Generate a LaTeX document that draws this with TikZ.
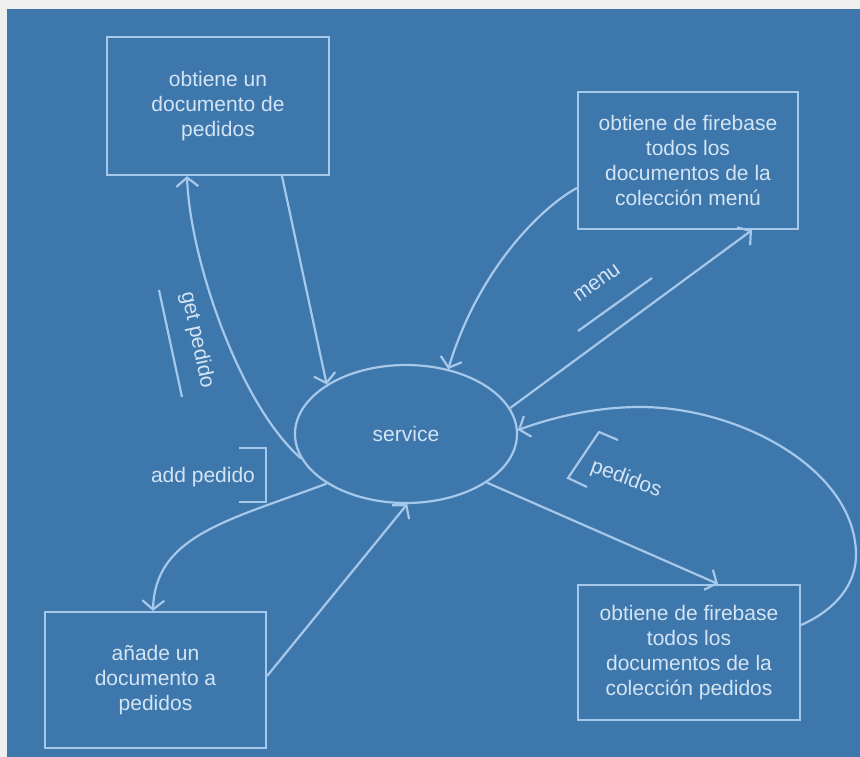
\documentclass[tikz,border=0pt]{standalone}
\usepackage{fontspec}
\setmainfont{Liberation Sans}
\usetikzlibrary{shapes.geometric,arrows.meta}
\definecolor{bgblue}{HTML}{3E77AC}
\definecolor{edgeblue}{HTML}{A6C8EA}
\definecolor{inkblue}{HTML}{D3E4F4}
\definecolor{paper}{HTML}{EFEFEF}
\tikzset{
  stepbox/.style={draw=edgeblue, line width=2.2pt, rectangle, align=center,
    text=inkblue, font=\fontsize{21}{25}\selectfont, inner sep=0pt},
  svcshape/.style={draw=edgeblue, line width=2.2pt, ellipse, inner sep=0pt,
    text=inkblue, font=\fontsize{21}{25}\selectfont,
    minimum width=222pt, minimum height=138pt},
  flow/.style={draw=edgeblue, line width=2.2pt,
    -{Straight Barb[length=9pt,width=22pt]}},
  tag/.style={text=inkblue, font=\fontsize{21}{25}\selectfont, inner sep=0pt},
  mark line/.style={draw=edgeblue, line width=2.2pt}
}
\begin{document}
\begin{tikzpicture}[x=1pt,y=-1pt]
  % page and panel
  \fill[paper] (0,0) rectangle (860,757);
  \fill[bgblue] (7,9) rectangle (860,757);
  \useasboundingbox (0,0) rectangle (860,757);

  % processes
  \node[stepbox, minimum width=222pt, minimum height=138pt] (b1) at (218,106)
    {obtiene un\\documento de\\pedidos};
  \node[stepbox, minimum width=220pt, minimum height=137pt] (b2) at (688,160.5)
    {obtiene de firebase\\todos los\\documentos de la\\colección menú};
  \node[stepbox, minimum width=222pt, minimum height=135pt] (b3) at (689,652.5)
    {obtiene de firebase\\todos los\\documentos de la\\colección pedidos};
  \node[stepbox, minimum width=221pt, minimum height=136pt] (b4) at (155.5,680)
    {añade un\\documento a\\pedidos};
  \node[svcshape] (svc) at (406,434) {service};

  % connectors
  \draw[flow] ([xshift=64pt]b1.south) -- (svc.148);
  \draw[flow] (svc.193) .. controls (240,405) and (190,260) .. ([xshift=-31pt]b1.south);
  \draw[flow] ([yshift=-27.5pt]b2.west) .. controls (545,205) and (480,265) .. (svc.57.5);
  \draw[flow] (svc.14.6) -- ([xshift=64pt]b2.south);
  \draw[flow] (svc.-31.2) -- ([xshift=29pt]b3.north);
  \draw[flow] ([yshift=27.5pt]b3.east) .. controls (835,610) and (856,585) .. (856,555)
    .. controls (856,470) and (740,407) .. (640,407)
    .. controls (590,407) and (545,420) .. (svc.2);
  \draw[flow] (svc.-148.7) .. controls (230,520) and (155,535) .. ([xshift=-2.5pt]b4.north);
  \draw[flow] ([yshift=4pt]b4.east) -- (svc.-89);

  % labels with their marks
  \node[tag, rotate=-78] (lget) at (197,340) {get pedido};
  \draw[mark line] (159,290) -- (182,397);
  \node[tag, rotate=35.6] (lmenu) at (597,283) {menu};
  \draw[mark line] (578,331) -- (652,278);
  \node[tag] (ladd) at (203,477) {add pedido};
  \draw[mark line] (239,448) -- (266,448) -- (266,502) -- (239,502);
  \node[tag, rotate=-20] (lped) at (626,479) {pedidos};
  \draw[mark line] (618,440) -- (599,432) -- (568,478) -- (587,487);
\end{tikzpicture}
\end{document}
